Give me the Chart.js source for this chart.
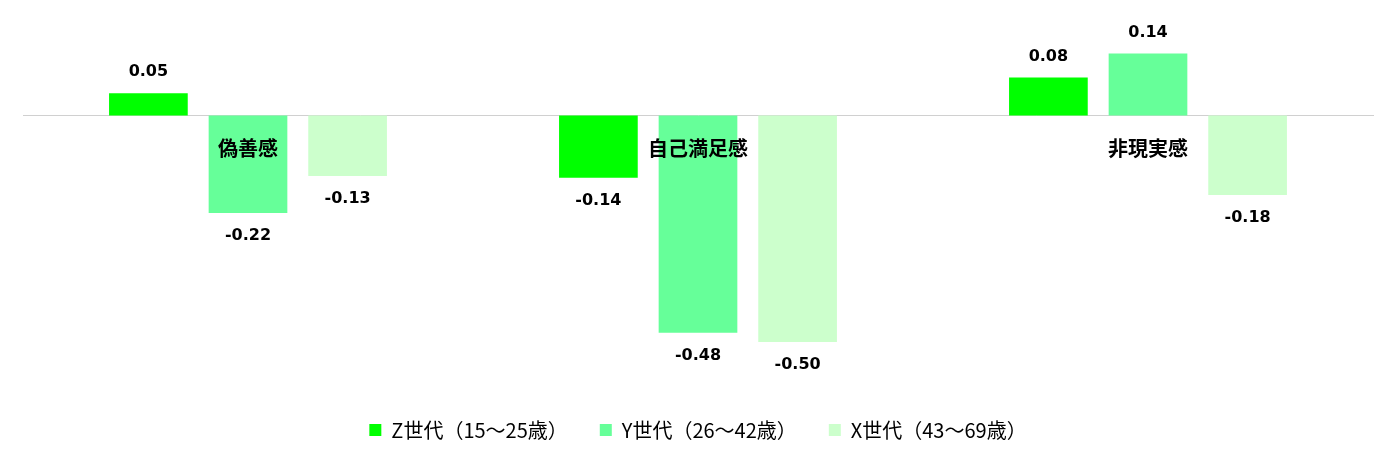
<!DOCTYPE html>
<html>
<head>
<meta charset="utf-8">
<script src="https://cdn.jsdelivr.net/npm/chart.js@4.4.0/dist/chart.umd.min.js"></script>
<style>
  html, body { margin: 0; padding: 0; background: #fff; }
  #wrap { width: 1395px; height: 461px; }
</style>
</head>
<body>
<div id="wrap"><canvas id="myChart"></canvas></div>
<script>
var categories = ['偽善感', '自己満足感', '非現実感'];
var seriesNames = ['Z世代（15～25歳）', 'Y世代（26～42歳）', 'X世代（43～69歳）'];
var zValues = [0.049, -0.138, 0.084];
var yValues = [-0.216, -0.481, 0.137];
var xValues = [-0.134, -0.501, -0.176];
var seriesColors = ['#00ff00', '#66ff99', '#ccffcc'];

// draws the value above / below each bar
const valueLabels = {
  id: 'valueLabels',
  afterDatasetsDraw(chart) {
    const ctx = chart.ctx;
    ctx.save();
    ctx.font = 'bold 16px "DejaVu Sans"';
    ctx.fillStyle = '#000';
    ctx.textAlign = 'center';
    ctx.textBaseline = 'middle';
    chart.data.datasets.forEach((ds, i) => {
      const meta = chart.getDatasetMeta(i);
      meta.data.forEach((bar, j) => {
        const v = ds.data[j];
        const y = v >= 0 ? bar.y - 21 : bar.y + 23;
        ctx.fillText(v.toFixed(2), bar.x, y);
      });
    });
    ctx.restore();
  }
};

function makeDataset(idx, values) {
  return {
    label: seriesNames[idx],
    data: values,
    backgroundColor: seriesColors[idx],
    borderWidth: 0,
    categoryPercentage: 0.664,
    barPercentage: 0.79
  };
}

var ctx = document.getElementById('myChart');
var chart = new Chart(ctx, {
  type: 'bar',
  data: {
    labels: categories,
    datasets: [
      makeDataset(0, zValues),
      makeDataset(1, yValues),
      makeDataset(2, xValues)
    ]
  },
  options: {
    responsive: true,
    maintainAspectRatio: false,
    animation: false,
    layout: {
      padding: { top: 25, bottom: 11, left: 23, right: 22 }
    },
    plugins: {
      tooltip: { enabled: false },
      legend: {
        display: true,
        position: 'bottom',
        labels: {
          boxWidth: 12,
          boxHeight: 12,
          padding: 32,
          color: '#000',
          font: { family: '"Noto Sans CJK JP"', size: 20 }
        }
      }
    },
    scales: {
      x: {
        position: { y: 0 },
        grid: { display: false, drawTicks: false },
        border: { display: true, color: '#d0d0d0', width: 1 },
        ticks: {
          z: 1,
          color: '#000',
          padding: 21,
          font: { family: '"Noto Sans CJK JP"', size: 20, weight: 'bold' }
        }
      },
      y: {
        display: false,
        min: -0.603,
        max: 0.2
      }
    }
  },
  plugins: [valueLabels]
});
</script>
</body>
</html>
